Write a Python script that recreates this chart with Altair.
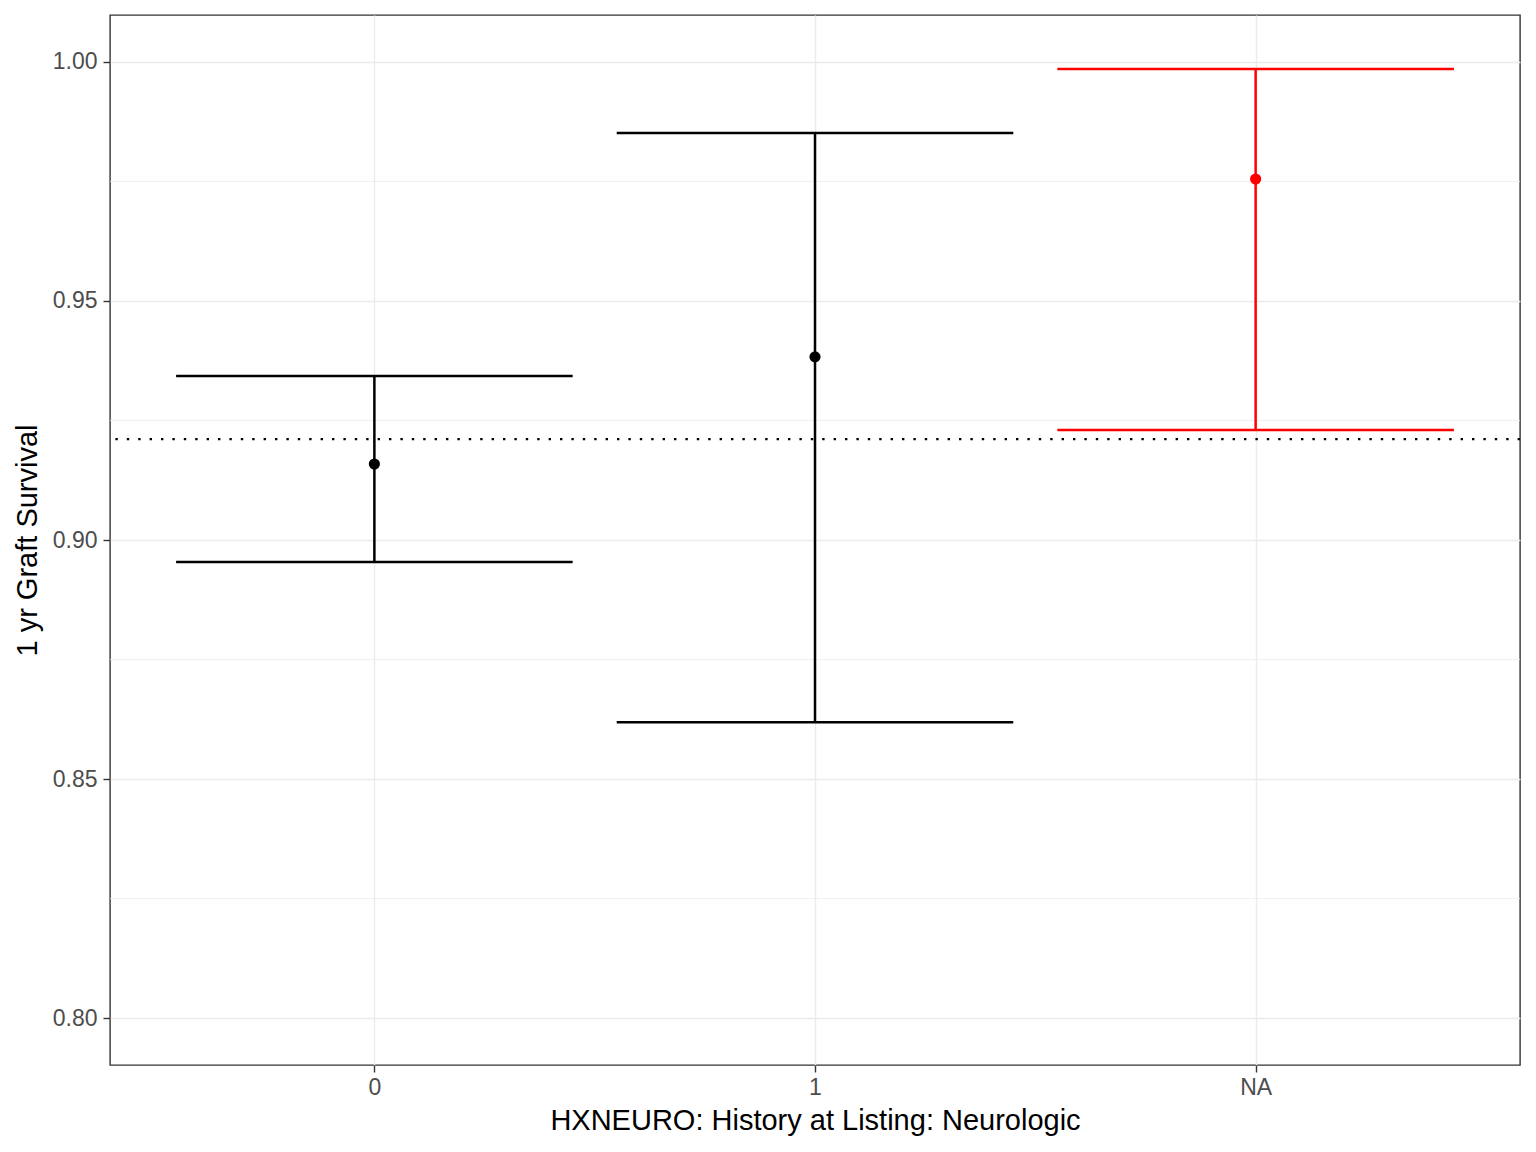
import altair as alt
import pandas as pd

categories = ["0", "1", "NA"]
estimate = [0.9159, 0.9383, 0.9755]
lower = [0.8954, 0.8619, 0.9230]
upper = [0.9343, 0.9851, 0.9985]
colors = ["black", "black", "#FF0000"]
reference = 0.9211
major_breaks = [0.80, 0.85, 0.90, 0.95, 1.00]
minor_breaks = [0.825, 0.875, 0.925, 0.975]

df = pd.DataFrame({
    "idx": list(range(len(categories))),
    "cat": categories,
    "est": estimate,
    "lo": lower,
    "hi": upper,
    "col": colors,
})

label_expr = " : ".join(
    [f"datum.value == {i} ? '{c}'" for i, c in enumerate(categories)]
) + " : ''"

FONT = "Liberation Sans"
LW = 2.5

xscale = alt.Scale(domain=[-0.6, 2.6], nice=False, zero=False)
yscale = alt.Scale(domain=[0.7902, 1.0098], nice=False, zero=False)

xaxis = alt.Axis(
    values=list(range(len(categories))), labelExpr=label_expr,
    title="HXNEURO: History at Listing: Neurologic",
    titlePadding=7, labelPadding=4,
)
yaxis = alt.Axis(
    values=major_breaks, format=".2f",
    title="1 yr Graft Survival",
    titlePadding=10, labelPadding=6,
)

base = alt.Chart(df)

minor = alt.Chart(pd.DataFrame({"m": minor_breaks})).mark_rule(
    color="#EBEBEB", strokeWidth=0.8
).encode(y=alt.Y("m:Q", scale=yscale, axis=yaxis))

anchor = base.mark_point(opacity=0).encode(
    x=alt.X("idx:Q", scale=xscale, axis=xaxis),
    y=alt.Y("est:Q", scale=yscale, axis=yaxis),
)

vline = base.mark_rule(strokeWidth=LW).encode(
    x=alt.X("idx:Q", scale=xscale),
    y=alt.Y("lo:Q", scale=yscale),
    y2="hi:Q",
    color=alt.Color("col:N", scale=None),
)

caps_hi = base.transform_calculate(
    x1="datum.idx - 0.45", x2="datum.idx + 0.45"
).mark_rule(strokeWidth=LW).encode(
    x=alt.X("x1:Q", scale=xscale), x2="x2:Q",
    y=alt.Y("hi:Q", scale=yscale),
    color=alt.Color("col:N", scale=None),
)
caps_lo = base.transform_calculate(
    x1="datum.idx - 0.45", x2="datum.idx + 0.45"
).mark_rule(strokeWidth=LW).encode(
    x=alt.X("x1:Q", scale=xscale), x2="x2:Q",
    y=alt.Y("lo:Q", scale=yscale),
    color=alt.Color("col:N", scale=None),
)

ref = alt.Chart(pd.DataFrame({"r": [reference]})).mark_rule(
    color="black", strokeWidth=2.4, strokeDash=[2.4, 9]
).encode(y=alt.Y("r:Q", scale=yscale))

points = base.mark_circle(size=125, opacity=1).encode(
    x=alt.X("idx:Q", scale=xscale),
    y=alt.Y("est:Q", scale=yscale),
    color=alt.Color("col:N", scale=None),
)

chart = alt.layer(minor, anchor, vline, caps_hi, caps_lo, ref, points).properties(
    width=1410, height=1050,
    autosize=alt.AutoSizeParams(type="none"),
    padding={"left": 110, "top": 15, "right": 16, "bottom": 87},
    background="white",
).configure_view(
    stroke="#333333", strokeWidth=1.4
).configure_axis(
    grid=True, gridColor="#EBEBEB", gridWidth=1.4,
    domain=False, tickColor="#333333", tickWidth=1.4, tickSize=7,
    labelFont=FONT, labelFontSize=23, labelColor="#4D4D4D",
    titleFont=FONT, titleFontSize=29, titleColor="black", titleFontWeight="normal",
)

chart.save("out.html", embed_options={"renderer": "svg", "actions": False})
